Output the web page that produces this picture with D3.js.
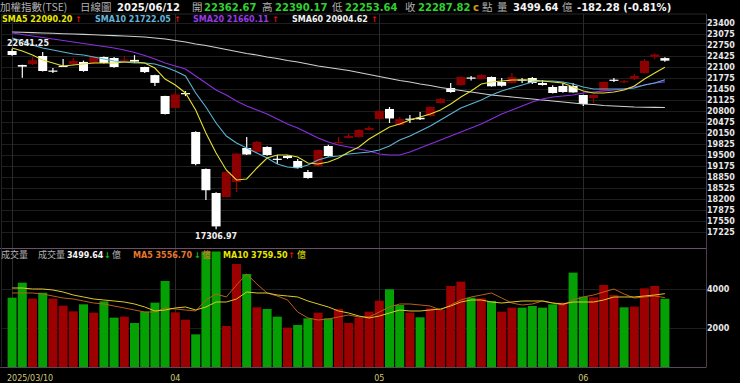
<!DOCTYPE html>
<html><head><meta charset="utf-8">
<script src="https://cdn.jsdelivr.net/npm/d3@7"></script>
<style>html,body{margin:0;padding:0;background:#000;overflow:hidden}</style>
</head><body><svg id="c" width="740" height="383"></svg>
<script>
const dates = ["03/10","03/11","03/12","03/13","03/14","03/17","03/18","03/19","03/20","03/21","03/24","03/25","03/26","03/27","03/28","03/31",
"04/01","04/02","04/07","04/08","04/09","04/10","04/11","04/14","04/15","04/16","04/17","04/18","04/21","04/22","04/23","04/24","04/25","04/28","04/29","04/30",
"05/02","05/05","05/06","05/07","05/08","05/09","05/12","05/13","05/14","05/15","05/16","05/19","05/20","05/21","05/22","05/23","05/26","05/27","05/28","05/29",
"06/02","06/03","06/04","06/05","06/06","06/09","06/10","06/11","06/12"];
const openP = [22573,22160,22189,22425,21995,22135,22189,22250,22218,22395,22366,22290,22310,22100,21860,21243,20889,21330,20180,19087,18378,18260,18702,19707,19589,19737,19390,19470,19323,18998,19175,19766,19855,20004,20032,20240,20564,20859,20386,20575,20600,20652,21036,21480,21568,21790,21745,21804,21657,21627,21730,21775,21627,21509,21539,21539,21273,21184,21391,21725,21650,21745,21923,22400,22362.67];
const highP = [22641.25,22170,22395,22543,22070,22336,22366,22290,22420,22410,22395,22425,22450,22110,21870,21250,21332,21390,20200,19100,18400,19010,19560,20032,19910,19760,19500,19490,19382,19057,19660,19800,20032,20120,20260,20360,20830,20918,20623,20682,20770,20940,21184,21627,21820,21834,21880,21820,21775,21922,21775,21805,21716,21560,21627,21627,21280,21290,21670,21775,21716,21890,22336,22500,22390.17];
const lowP = [22430,21780,22160,21965,21920,22110,22170,21960,22205,22200,22080,22250,22220,21920,21540,20700,20880,21240,19200,18170,17306.97,18250,18407,19500,19570,19480,19234,19380,19100,18800,19150,19450,19840,19990,20020,20230,20550,20445,20370,20445,20534,20640,21020,21340,21550,21700,21730,21520,21520,21610,21627,21598,21550,21320,21340,21340,20948,21036,21380,21657,21620,21716,21910,22330,22253.64];
const closeP = [22455,22110,22300,21982,21985,22125,22277,21982,22395,22218,22100,22320,22260,21950,21630,20711,21290,21298,19232,18459,17391,19000,19540,19515,19884,19500,19370,19410,19115,18820,19648,19470,19884,20062,20240,20300,20800,20580,20560,20570,20555,20918,21154,21361,21804,21770,21863,21530,21545,21804,21710,21627,21568,21332,21361,21350,21007,21273,21657,21705,21680,21834,22277,22470.10,22287.82];
const prevClose = 22577;
const volume = [3554,4323,3503,3810,3503,3144,2855,3215,2786,3368,2530,2581,2256,2838,3299,4410,2803,2427,1675,5950,6300,2103,5282,4769,3060,2974,2581,2017,2154,2496,2786,2496,2974,2256,2530,2838,3400,3985,3179,2786,2547,3009,2923,4154,4376,3555,3521,3385,2838,3043,3043,3128,3043,3214,3299,4838,3607,3573,4205,3692,3060,3094,4034,4154,3499.64];
const sma5 = [22661,22573,22455,22307,22218,22130,22159,22189,22218,22218,22218,22248,22248,22218,22070,21745,21568,21332,20830,20150,19559,19057,18761,18791,19116,19411,19500,19500,19441,19264,19234,19293,19411,19589,19736,19973,20150,20327,20416,20534,20623,20711,20830,21007,21214,21391,21598,21657,21686,21716,21716,21716,21686,21657,21627,21509,21391,21332,21332,21361,21420,21539,21745,21923,22090.20];
const sma10 = [22957,22868,22750,22661,22602,22543,22484,22455,22395,22336,22277,22248,22218,22218,22189,22100,21982,21834,21332,20918,20445,20061,19855,19707,19559,19411,19234,19145,19116,19205,19352,19441,19470,19530,19559,19589,19648,19766,19943,20061,20209,20357,20534,20711,20889,21007,21125,21273,21391,21480,21568,21657,21686,21686,21657,21598,21509,21450,21450,21450,21450,21480,21568,21627,21722.05];
const sma20 = [23105,23060,23016,22971,22927,22883,22839,22794,22750,22706,22661,22602,22528,22440,22336,22218,22130,22041,21834,21627,21420,21273,21095,20948,20830,20711,20564,20416,20298,20150,20002,19884,19795,19736,19677,19618,19530,19500,19500,19589,19707,19825,19943,20061,20180,20298,20416,20564,20711,20830,20948,21066,21155,21214,21243,21273,21332,21361,21391,21420,21450,21509,21568,21627,21660.11];
const sma60 = [23134,23125,23116,23105,23096,23084,23075,23063,23051,23040,23028,23016,23001,22986,22957,22927,22883,22839,22780,22735,22676,22617,22558,22499,22455,22395,22351,22292,22248,22189,22130,22085,22041,21996,21937,21878,21819,21760,21701,21657,21598,21553,21494,21450,21406,21361,21317,21273,21243,21214,21184,21155,21125,21095,21066,21036,21007,20992,20963,20948,20933,20918,20912,20906,20904.62];
const volMa5 = [3795,3795,3795,3744,3641,3538,3487,3385,3282,3231,3128,3026,2923,2820,2820,3026,2974,2923,2872,3436,3744,3590,4205,4769,4256,3795,3641,3436,2820,2513,2410,2462,2564,2667,2564,2564,2820,3077,3231,3231,3179,3128,2923,3179,3436,3590,3692,3795,3538,3282,3179,3231,3385,3282,3179,3436,3590,3692,3846,4000,3744,3538,3590,3641,3556.70];
const volMa10 = [4051,4051,4000,4000,3949,3846,3692,3590,3487,3436,3385,3333,3231,3077,2872,2923,3026,3077,2923,3077,3333,3333,3487,3846,3795,3795,3692,3641,3590,3385,3231,3077,2872,2769,2615,2513,2615,2769,2923,2872,2872,2923,2974,3128,3333,3436,3436,3333,3282,3333,3385,3385,3385,3282,3231,3333,3333,3333,3436,3590,3590,3590,3641,3692,3759.50];
const priceTicks = [23400,23075,22750,22425,22100,21775,21450,21125,20800,20475,20150,19825,19500,19175,18850,18525,18200,17875,17550,17225];
const volTicks = [2000,4000];
const monthTickDates = ["03/10","04/01","05/02","06/02"];
const monthTickLabels = ["2025/03/10","04","05","06"];
const year = "2025";

const svg = d3.select("#c");
svg.append("rect").attr("width",740).attr("height",383).attr("fill","#000");

const x = d3.scaleBand().domain(dates).range([7, 670]).padding(0);
const cx = d => x(d) + x.bandwidth()/2;
const y = d3.scaleLinear().domain([17225, 23400]).range([232, 23]);
const vy = d3.scaleLinear().domain([0, 4000]).range([367, 289]);
const L = 2, R = 706, TOP = 14, SEP = 248.5, BOT = 367.5;
const VTOP = 251.5;
const bw = 9;

// grid
const g = svg.append("g");
g.selectAll(".hg").data(priceTicks).join("line")
  .attr("x1",L).attr("x2",R).attr("y1",d=>Math.round(y(d))+0.5).attr("y2",d=>Math.round(y(d))+0.5)
  .attr("stroke","#1e1e1e");
g.selectAll(".vhg").data(volTicks).join("line")
  .attr("x1",L).attr("x2",R).attr("y1",d=>Math.round(vy(d))+0.5).attr("y2",d=>Math.round(vy(d))+0.5)
  .attr("stroke","#1e1e1e");
g.selectAll(".vg").data(monthTickDates).join("line")
  .attr("x1",d=>Math.round(cx(d))+0.5).attr("x2",d=>Math.round(cx(d))+0.5)
  .attr("y1",TOP).attr("y2",BOT).attr("stroke","#2a2a2a");
// borders
g.append("line").attr("x1",L).attr("x2",R).attr("y1",TOP).attr("y2",TOP).attr("stroke","#262626");
g.append("line").attr("x1",0).attr("x2",R).attr("y1",SEP).attr("y2",SEP).attr("stroke","#6a506a");
g.append("line").attr("x1",0).attr("x2",R).attr("y1",BOT).attr("y2",BOT).attr("stroke","#5a485a");
g.append("line").attr("x1",R+0.5).attr("x2",R+0.5).attr("y1",TOP).attr("y2",BOT).attr("stroke","#4a3e4a");
g.append("line").attr("x1",1.5).attr("x2",1.5).attr("y1",TOP).attr("y2",BOT).attr("stroke","#222");

// volume bars
const vcol = i => (closeP[i] > (i === 0 ? prevClose : closeP[i-1])) ? "#9c0000" : "#04a004";
svg.append("g").selectAll("rect").data(volume).join("rect")
  .attr("x",(d,i)=>cx(dates[i])-bw/2)
  .attr("y",d=>Math.max(vy(d), VTOP))
  .attr("width",bw)
  .attr("height",d=>367 - Math.max(vy(d), VTOP))
  .attr("fill",(d,i)=>vcol(i));

// volume MA lines
const vline = d3.line().x((d,i)=>cx(dates[i])).y(d=>vy(d));
svg.append("path").attr("d",vline(volMa5)).attr("fill","none").attr("stroke","#b8601c").attr("stroke-width",1);
svg.append("path").attr("d",vline(volMa10)).attr("fill","none").attr("stroke","#e0c828").attr("stroke-width",1);

// candles
const up = i => closeP[i] >= openP[i];
const cg = svg.append("g");
cg.selectAll("line").data(dates).join("line")
  .attr("x1",d=>cx(d)).attr("x2",d=>cx(d))
  .attr("y1",(d,i)=>y(highP[i])).attr("y2",(d,i)=>y(lowP[i]))
  .attr("stroke",(d,i)=>up(i)?"#a00000":"#ffffff").attr("stroke-width",1.2);
cg.selectAll("rect").data(dates).join("rect")
  .attr("x",d=>cx(d)-bw/2)
  .attr("y",(d,i)=>y(Math.max(openP[i],closeP[i])))
  .attr("width",bw)
  .attr("height",(d,i)=>Math.max(1.2, Math.abs(y(openP[i])-y(closeP[i]))))
  .attr("fill",(d,i)=>up(i)?"#8c0000":"#ffffff");

// price MA lines
const pline = d3.line().x((d,i)=>cx(dates[i])).y(d=>y(d));
[[sma60,"#cfcfcf"],[sma20,"#8c2ee0"],[sma10,"#5ab4d6"],[sma5,"#e0e030"]].forEach(([arr,c])=>{
  svg.append("path").attr("d",pline(arr)).attr("fill","none").attr("stroke",c).attr("stroke-width",1.1);
});

// axis labels
const latin = "DejaVu Sans, Verdana, sans-serif";
const cjk = "'Noto Sans CJK TC', 'Noto Sans CJK SC', sans-serif";
svg.append("g").selectAll("text").data(priceTicks).join("text")
  .attr("x",707).attr("y",d=>y(d)).attr("dy","0.35em")
  .attr("font-family",latin).attr("font-weight","bold").attr("font-size",8)
  .attr("fill","#e8e8e8").text(d=>d);
svg.append("g").selectAll("text").data(volTicks).join("text")
  .attr("x",707).attr("y",d=>vy(d)).attr("dy","0.35em")
  .attr("font-family",latin).attr("font-weight","bold").attr("font-size",8)
  .attr("fill","#e8e8e8").text(d=>d);
svg.append("g").selectAll("text").data(monthTickDates).join("text")
  .attr("x",(d,i)=> i===0 ? 7 : cx(d))
  .attr("text-anchor",(d,i)=> i===0 ? "start" : "middle")
  .attr("y",381).attr("font-family",latin).attr("font-size",8)
  .attr("fill","#d2c878").text((d,i)=>monthTickLabels[i]);

// extreme labels
const iMax = d3.maxIndex(highP), iMin = d3.minIndex(lowP);
const f2 = v => v.toFixed(2);
svg.append("text").attr("x",7).attr("y",46).attr("font-family",latin).attr("font-weight","bold")
  .attr("font-size",8).attr("fill","#f0f0f0").text(f2(highP[iMax]));
svg.append("text").attr("x",cx(dates[iMin])).attr("y",238.5).attr("text-anchor","middle").attr("font-family",latin).attr("font-weight","bold")
  .attr("font-size",8).attr("fill","#f0f0f0").text(f2(lowP[iMin]));

// header helper
function t(xp, yp, s, fill, opt={}) {
  svg.append("text").attr("x",xp).attr("y",yp)
    .attr("font-family", opt.cjk ? cjk : latin)
    .attr("font-weight", opt.cjk ? "normal" : "bold")
    .attr("font-size", opt.size || (opt.cjk ? 10.5 : 10))
    .attr("fill",fill).text(s);
}
const n = dates.length - 1;
const gray = "#b0b0b0", green = "#30d030";
t(0, 11, "加權指數(TSE)", gray, {cjk:true});
t(80, 11, "日線圖", gray, {cjk:true});
t(117, 11, year + "/" + dates[n], "#f4f4f4");
t(192, 11, "開", gray, {cjk:true});
t(204, 11, f2(openP[n]), green);
t(262, 11, "高", gray, {cjk:true});
t(275, 11, f2(highP[n]), green);
t(332, 11, "低", gray, {cjk:true});
t(345, 11, f2(lowP[n]), green);
t(405, 11, "收", gray, {cjk:true});
t(418, 11, f2(closeP[n]), green);
t(473, 11, "c", "#d4a017", {size:10});
t(482, 11, "點", gray, {cjk:true});
t(497, 11, "量", gray, {cjk:true});
t(513, 11, f2(volume[n]), "#f4f4f4");
t(562, 11, "億", gray, {cjk:true});
const chg = closeP[n] - closeP[n-1];
t(577, 11, f2(chg) + " (" + f2(chg/closeP[n-1]*100) + "%)", "#f4f4f4");

const red = "#e01010", dgreen = "#10c010";
t(2, 21.5, "SMA5 " + f2(sma5[n]), "#e8e800", {size:8});
t(75, 21.5, "↑", red, {size:8});
t(95, 21.5, "SMA10 " + f2(sma10[n]), "#64b4dc", {size:8});
t(174, 21.5, "↑", red, {size:8});
t(193, 21.5, "SMA20 " + f2(sma20[n]), "#9a3ae6", {size:8});
t(272, 21.5, "↑", red, {size:8});
t(292, 21.5, "SMA60 " + f2(sma60[n]), "#f0f0f0", {size:8});
t(371, 21.5, "↑", red, {size:8});

t(1, 258, "成交量", gray, {cjk:true, size:9});
t(38, 258, "成交量", gray, {cjk:true, size:9});
t(67, 258, f2(volume[n]), "#f4f4f4", {size:8});
t(104, 258, "↓", dgreen, {size:8});
t(112, 258, "億", gray, {cjk:true, size:9});
t(133, 258, "MA5 " + f2(volMa5[n]), "#e8782a", {size:8});
t(194, 258, "↓", dgreen, {size:8});
t(202, 258, "億", "#e8782a", {cjk:true, size:9});
t(223, 258, "MA10 " + f2(volMa10[n]), "#e6e600", {size:8});
t(288, 258, "↑", red, {size:8});
t(297, 258, "億", "#e6e600", {cjk:true, size:9});
</script></body></html>
